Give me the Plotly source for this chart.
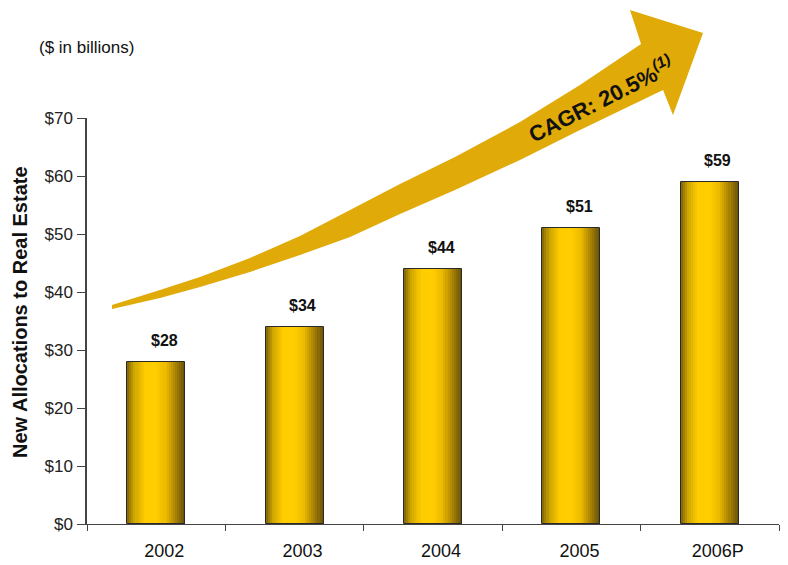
import plotly.graph_objects as go

# ---- data ----
years = ["2002", "2003", "2004", "2005", "2006P"]
values = [28, 34, 44, 51, 59]
value_labels = ["$28", "$34", "$44", "$51", "$59"]
y_ticks = [0, 10, 20, 30, 40, 50, 60, 70]
y_tick_labels = ["$0", "$10", "$20", "$30", "$40", "$50", "$60", "$70"]

# ---- layout geometry (pixels) ----
W, H = 788, 565
L, R, T, B = 87, 9, 118, 41
pw, ph = W - L - R, H - T - B
FONT = "Liberation Sans, Arial, sans-serif"

def P(px, py):
    return (px - L) / pw, (H - B - py) / ph

fig = go.Figure()

# gradient bars built from narrow slices
BAR_W = 0.42
N = 28
stops = [(0.0, (125, 98, 8)), (0.12, (205, 165, 0)), (0.3, (255, 204, 0)),
         (0.5, (255, 205, 0)), (0.66, (236, 186, 0)), (0.84, (165, 128, 5)),
         (1.0, (98, 78, 10))]

def col(t):
    for (a, ca), (b, cb) in zip(stops[:-1], stops[1:]):
        if a <= t <= b:
            f = (t - a) / (b - a)
            c = [round(ca[k] + (cb[k] - ca[k]) * f) for k in range(3)]
            return "rgb(%d,%d,%d)" % tuple(c)
    return "rgb(%d,%d,%d)" % stops[-1][1]

sw = BAR_W / N
for i in range(N):
    w = sw * 1.4 if i < N - 1 else sw
    fig.add_trace(go.Bar(
        x=years, y=values, offset=-BAR_W / 2 + i * sw, width=w,
        marker=dict(color=col((i + 0.5) / N), line=dict(width=0)),
        hoverinfo="skip", showlegend=False))

# outline
fig.add_trace(go.Bar(
    x=years, y=values, width=BAR_W,
    marker=dict(color="rgba(0,0,0,0)", line=dict(color="#2a2a2a", width=1)),
    hoverinfo="skip", showlegend=False))

annotations = []
for idx, (v, lab) in enumerate(zip(values, value_labels)):
    annotations.append(dict(x=idx, y=v, xref="x", yref="y", text="<b>%s</b>" % lab,
                            showarrow=False, xanchor="center", yanchor="bottom",
                            yshift=11, xshift=8,
                            font=dict(family=FONT, size=16, color="#111")))

# curved arrow
upper = [(112, 305), (160, 290), (200, 277), (250, 258), (300, 236), (350, 210),
         (400, 184), (455, 157), (520, 122), (580, 85), (641, 44)]
head = [(630, 10), (703, 33), (673, 115)]
lower = [(663, 90), (580, 130), (520, 160), (455, 190), (400, 214), (350, 237),
         (300, 255), (250, 272), (200, 287), (160, 298), (112, 309)]
pts = upper + head + lower
path = "M " + " L ".join("%.4f,%.4f" % P(*p) for p in pts) + " Z"
shapes = [dict(type="path", path=path, xref="paper", yref="paper",
               fillcolor="#E0AA08", line=dict(width=0), layer="above")]

cx, cy = P(600, 99)
annotations.append(dict(x=cx, y=cy, xref="paper", yref="paper",
                        xanchor="center", yanchor="middle",
                        text="<b>CAGR: 20.5%<sup><i>(1)</i></sup></b>",
                        textangle=-27, showarrow=False,
                        font=dict(family=FONT, size=22, color="#111")))

ax, ay = P(86, 47)
annotations.append(dict(x=ax, y=ay, xref="paper", yref="paper",
                        xanchor="center", yanchor="middle",
                        text="($ in billions)", showarrow=False,
                        font=dict(family=FONT, size=17, color="#111")))

tx, ty = P(20, 312)
annotations.append(dict(x=tx, y=ty, xref="paper", yref="paper",
                        xanchor="center", yanchor="middle",
                        text="<b>New Allocations to Real Estate</b>", textangle=-90,
                        showarrow=False,
                        font=dict(family=FONT, size=20, color="#111")))

fig.update_layout(
    width=W, height=H,
    margin=dict(l=L, r=R, t=T, b=B, autoexpand=False),
    paper_bgcolor="white", plot_bgcolor="white",
    barmode="overlay", bargap=0,
    showlegend=False,
    annotations=annotations, shapes=shapes,
    xaxis=dict(type="category", range=[-0.5, 4.5], tickson="boundaries",
               ticks="outside", ticklen=6, tickcolor="#444", showline=True,
               linecolor="#444", linewidth=1, showgrid=False, zeroline=False,
               tickfont=dict(family=FONT, size=18, color="#111"),
               ticklabelshift=8, ticklabelstandoff=10, fixedrange=True),
    yaxis=dict(range=[0, 70], tickvals=y_ticks, ticktext=y_tick_labels,
               ticks="outside", ticklen=8, tickcolor="#444", showline=True,
               linecolor="#444", linewidth=1.5, showgrid=False, zeroline=False,
               tickfont=dict(family=FONT, size=17, color="#222"),
               ticklabelstandoff=1, fixedrange=True),
)

fig.write_html("out.html")
